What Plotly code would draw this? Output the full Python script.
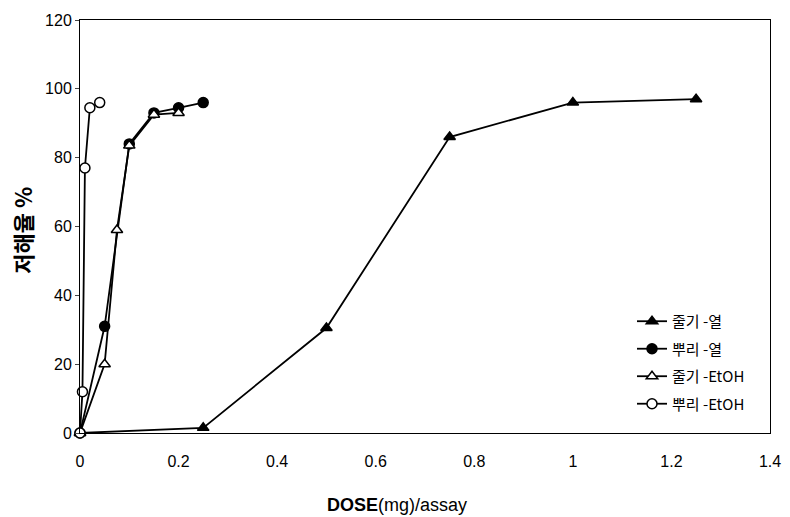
import plotly.graph_objects as go

# 줄기-열 (filled triangle)
stem_hot_x = [0, 0.25, 0.5, 0.75, 1.0, 1.25]
stem_hot_y = [0, 1.5, 30.5, 86, 96, 97]
# 뿌리-열 (filled circle)
root_hot_x = [0, 0.05, 0.1, 0.15, 0.2, 0.25]
root_hot_y = [0, 31, 84, 93, 94.5, 96]
# 줄기-EtOH (open triangle)
stem_etoh_x = [0, 0.05, 0.075, 0.1, 0.15, 0.2]
stem_etoh_y = [0, 20, 59, 83.5, 92.5, 93]
# 뿌리-EtOH (open circle)
root_etoh_x = [0, 0.005, 0.01, 0.02, 0.04]
root_etoh_y = [0, 12, 77, 94.5, 96]

x_ticks = [0, 0.2, 0.4, 0.6, 0.8, 1, 1.2, 1.4]
x_tick_labels = ["0", "0.2", "0.4", "0.6", "0.8", "1", "1.2", "1.4"]
y_ticks = [0, 20, 40, 60, 80, 100, 120]

names = ["줄기 -열", "뿌리 -열", "줄기 -EtOH", "뿌리 -EtOH"]

fig = go.Figure()
series = [
    (stem_hot_x, stem_hot_y, names[0], "triangle-up", "black"),
    (root_hot_x, root_hot_y, names[1], "circle", "black"),
    (stem_etoh_x, stem_etoh_y, names[2], "triangle-up", "white"),
    (root_etoh_x, root_etoh_y, names[3], "circle", "white"),
]
for i, (xs, ys, nm, sym, fill) in enumerate(series):
    fig.add_trace(go.Scatter(
        x=xs, y=ys, name=nm, mode="lines+markers", legendgroup=f"g{i}",
        line=dict(color="black", width=1.8),
        marker=dict(symbol=sym, size=10, color=fill,
                    line=dict(color="black", width=1.5)),
        cliponaxis=False,
    ))

fig.update_layout(
    width=790, height=517,
    margin=dict(l=80, r=20, t=20, b=84),
    paper_bgcolor="white", plot_bgcolor="white",
    font=dict(family="Liberation Sans, Arial, sans-serif", size=16, color="black"),
    showlegend=True,
    legend=dict(x=0.8, y=0.31, xanchor="left", yanchor="top",
                bgcolor="rgba(0,0,0,0)", borderwidth=0,
                font=dict(family="Noto Sans CJK KR, Liberation Sans", size=15),
                tracegroupgap=5, itemwidth=30),
    xaxis=dict(range=[0, 1.4], tickvals=x_ticks, ticktext=x_tick_labels,
               showgrid=False, zeroline=False, showline=True, linecolor="black",
               linewidth=1, mirror=True, ticks="", ticklen=0, automargin=False,
               ticklabelstandoff=14),
    yaxis=dict(range=[0, 120], tickvals=y_ticks,
               showgrid=False, zeroline=False, showline=True, linecolor="black",
               linewidth=1, mirror=True, ticks="outside", ticklen=4, automargin=False),
    annotations=[
        dict(text="<b>DOSE</b>(mg)/assay", xref="paper", yref="paper",
             x=0.46, y=-0.174, xanchor="center", yanchor="middle", showarrow=False,
             font=dict(family="Liberation Sans, Arial", size=18)),
        dict(text="<b>저해율 %</b>", xref="paper", yref="paper",
             x=-0.084, y=0.49, xanchor="center", yanchor="middle", showarrow=False,
             textangle=-90, font=dict(family="Noto Sans CJK KR", size=22)),
    ],
)

fig.write_html("out.html")
